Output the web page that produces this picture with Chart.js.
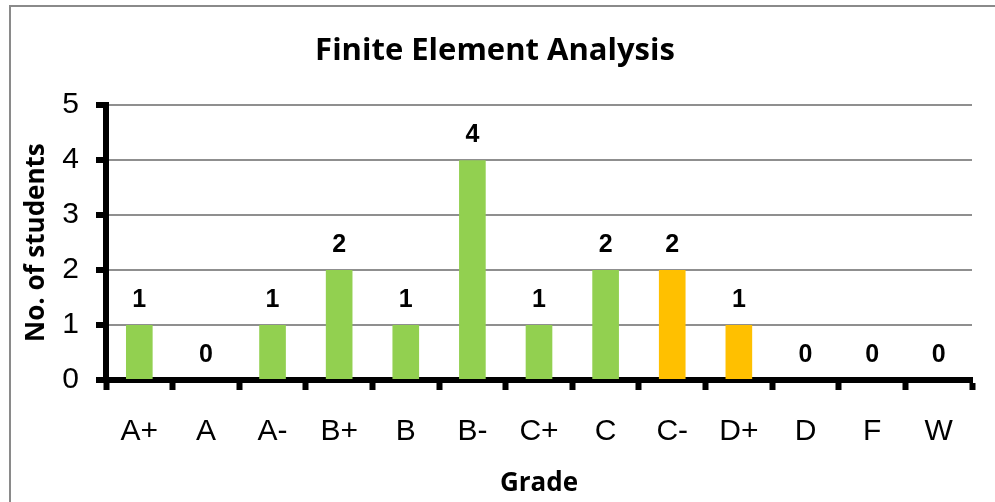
<!DOCTYPE html>
<html>
<head>
<meta charset="utf-8">
<script src="https://cdn.jsdelivr.net/npm/chart.js@4.4.1/dist/chart.umd.min.js"></script>
<style>
    html, body { margin: 0; padding: 0; background: #fff; }
    canvas { display: block; }
</style>
</head>
<body>
<canvas id="chart" width="995" height="502"></canvas>
<script>
const grades = ['A+', 'A', 'A-', 'B+', 'B', 'B-', 'C+', 'C', 'C-', 'D+', 'D', 'F', 'W'];
const students = [1, 0, 1, 2, 1, 4, 1, 2, 2, 1, 0, 0, 0];
const lowGrades = ['C-', 'D+'];
const yTicks = [0, 1, 2, 3, 4, 5];

const green = '#92D050';
const orange = '#FFC000';
const gridGray = '#8f8f8f';
const tickFont = '"Liberation Sans", Arial, sans-serif';
const titleFont = '"Open Sans", sans-serif';

// white background and the grey frame that runs off the right/bottom edges
const frame = {
    id: 'frame',
    beforeDraw(chart) {
        const ctx = chart.ctx;
        ctx.save();
        ctx.fillStyle = '#fff';
        ctx.fillRect(0, 0, chart.width, chart.height);
        ctx.strokeStyle = '#8a8a8a';
        ctx.lineWidth = 2;
        ctx.strokeRect(10, 6, chart.width + 20, chart.height + 20);
        ctx.restore();
    }
};

// value above every bar, zeros included
const valueLabels = {
    id: 'valueLabels',
    afterDatasetsDraw(chart) {
        const ctx = chart.ctx;
        const meta = chart.getDatasetMeta(0);
        ctx.save();
        ctx.fillStyle = '#000';
        ctx.font = 'bold 25px ' + tickFont;
        ctx.textAlign = 'center';
        ctx.textBaseline = 'alphabetic';
        meta.data.forEach((bar, i) => {
            ctx.fillText(String(students[i]), bar.x, bar.y - 18);
        });
        ctx.restore();
    }
};

new Chart(document.getElementById('chart'), {
    type: 'bar',
    data: {
        labels: grades,
        datasets: [{
            data: students,
            backgroundColor: ctx => lowGrades.includes(grades[ctx.dataIndex]) ? orange : green,
            borderWidth: 0,
            barPercentage: 0.4,
            categoryPercentage: 1
        }]
    },
    options: {
        responsive: false,
        animation: false,
        layout: {
            padding: { top: 0, left: 18, right: 23, bottom: 0 }
        },
        plugins: {
            legend: { display: false },
            tooltip: { enabled: false },
            title: {
                display: true,
                text: 'Finite Element Analysis',
                color: '#000',
                font: { family: titleFont, size: 31, weight: 'bold' },
                padding: { top: 33, bottom: 35 }
            }
        },
        scales: {
            x: {
                afterFit: axis => { axis.height = 122; },
                grid: {
                    drawOnChartArea: false,
                    offset: true,
                    color: '#000',
                    tickColor: '#000',
                    tickWidth: 6,
                    tickLength: 10
                },
                border: { color: '#000', width: 6 },
                ticks: {
                    color: '#000',
                    padding: 24,
                    font: { family: tickFont, size: 30 }
                },
                title: {
                    display: true,
                    text: 'Grade',
                    color: '#000',
                    font: { family: titleFont, size: 26, weight: 'bold' },
                    padding: { top: 0, bottom: 3 }
                }
            },
            y: {
                min: yTicks[0],
                max: yTicks[yTicks.length - 1],
                afterBuildTicks: axis => { axis.ticks = yTicks.map(v => ({ value: v })); },
                afterFit: axis => { axis.width = 88; },
                grid: {
                    color: gridGray,
                    lineWidth: 2,
                    tickColor: '#000',
                    tickWidth: 6,
                    tickLength: 10
                },
                border: { color: '#000', width: 6 },
                ticks: {
                    color: '#000',
                    padding: 17,
                    font: { family: tickFont, size: 30 }
                },
                title: {
                    display: true,
                    text: 'No. of students',
                    color: '#000',
                    font: { family: titleFont, size: 26, weight: 'bold' },
                    padding: { top: 3, bottom: 0 }
                }
            }
        }
    },
    plugins: [frame, valueLabels]
});
</script>
</body>
</html>
